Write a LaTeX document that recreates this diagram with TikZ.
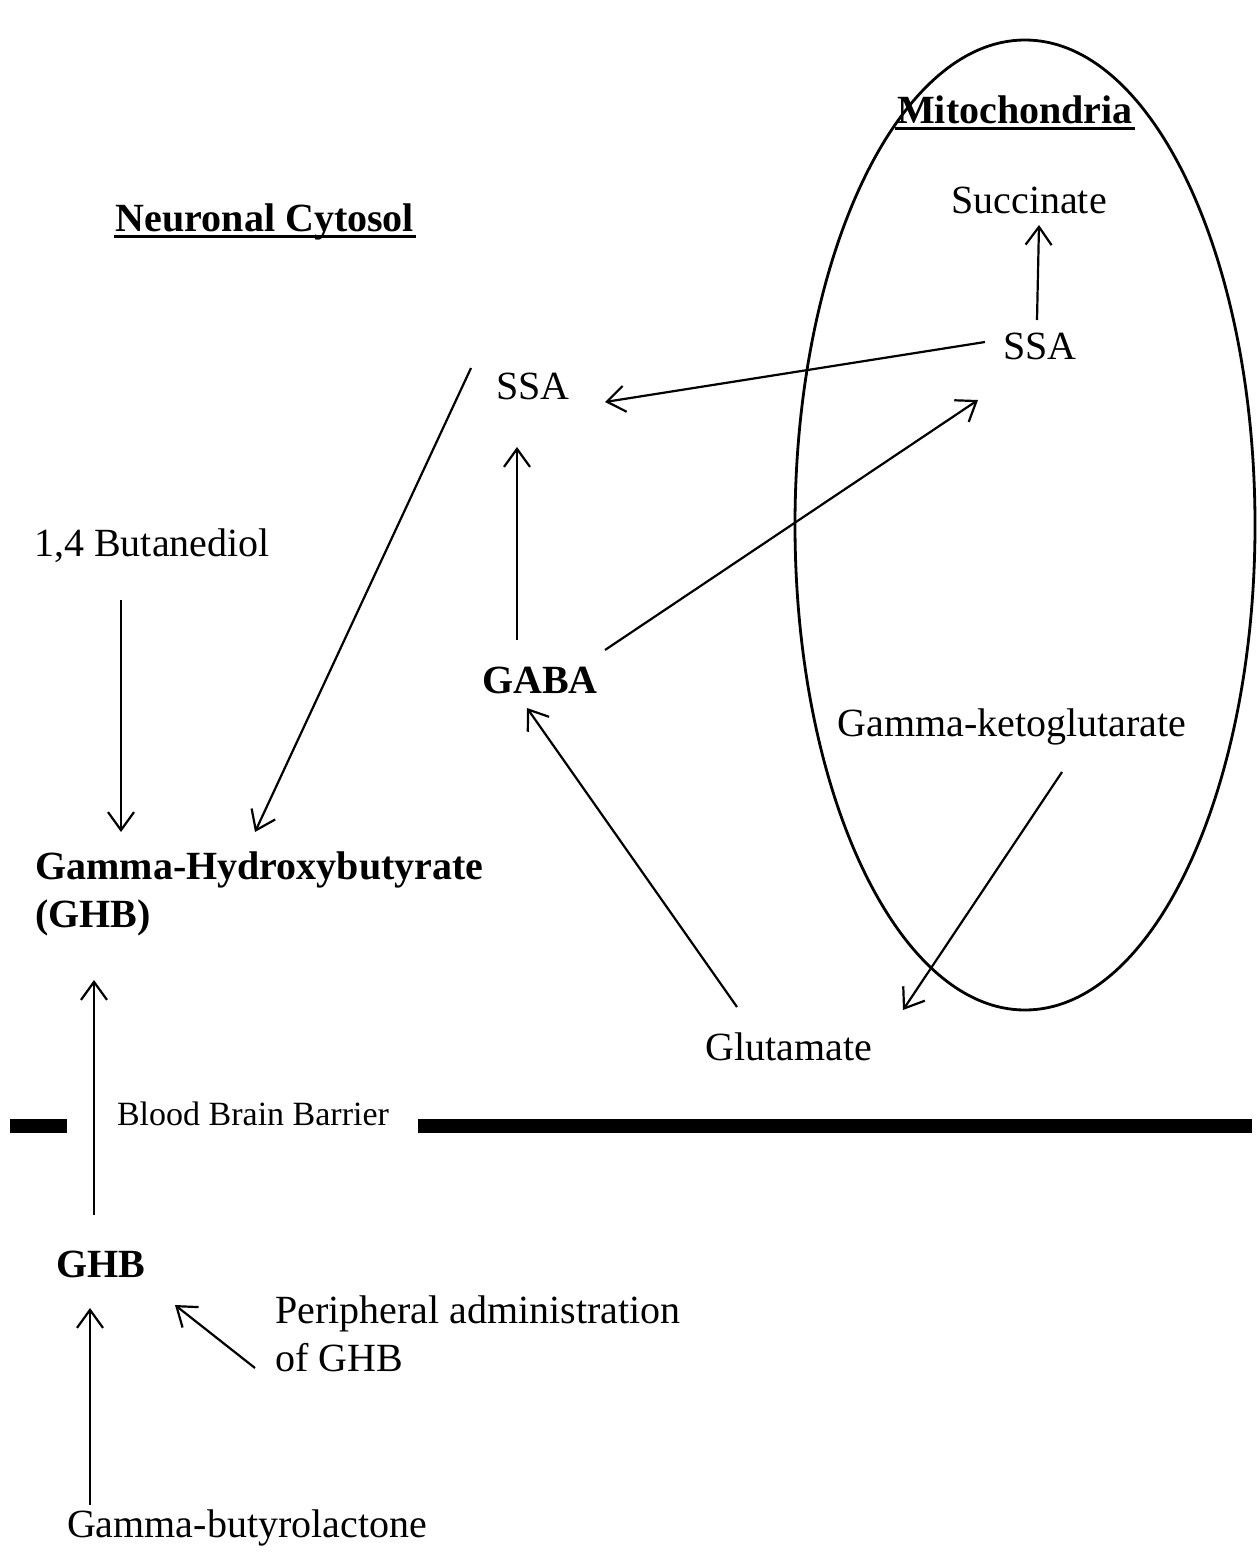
\documentclass[tikz,border=0pt]{standalone}
\usepackage{fontspec}
\setmainfont{Liberation Serif}
\usetikzlibrary{arrows.meta}
\begin{document}
\begin{tikzpicture}[x=0.5pt,y=-0.5pt,
  lbl/.style={font=\fontsize{20}{24}\selectfont, inner sep=1pt},
  blbl/.style={font=\fontsize{20}{24}\selectfont\bfseries, inner sep=1pt},
  arr/.style={line width=1.1pt, -{Straight Barb[length=9pt,width=13pt,line width=1.1pt]}},
  uline/.style={line width=1.4pt},
  barrier/.style={line width=7pt}]
\useasboundingbox (0,0) rectangle (1257,1552);
% mitochondria
\draw[line width=1.4pt] (1025,525) ellipse [x radius=230, y radius=485];
\node[blbl] (mito) at (1015,110) {Mitochondria};
\node[blbl] (cyto) at (265,222) {Neuronal Cytosol};
\draw[uline] ([yshift=-2.5pt]mito.base west) -- ([yshift=-2.5pt]mito.base east);
\draw[uline] ([yshift=-2.5pt]cyto.base west) -- ([yshift=-2.5pt]cyto.base east);
\node[lbl] (succ) at (1029,200) {Succinate};
\node[lbl] (ssar) at (1040,346) {SSA};
\node[lbl] (ssal) at (533,386) {SSA};
\node[blbl] (gaba) at (540,680) {GABA};
\node[lbl] (bdo) at (152,546) {1,4 Butanediol};
\node[blbl, align=left, anchor=north west] (ghb) at (33,849) {Gamma-Hydroxybutyrate\\(GHB)};
\node[lbl] (akg) at (1012,727) {Gamma-ketoglutarate};
\node[lbl] (glu) at (789,1047) {Glutamate};
\node[font=\fontsize{17}{20}\selectfont, inner sep=1pt] (bbb) at (253,1114) {Blood Brain Barrier};
\node[blbl] (ghbp) at (101,1264) {GHB};
\node[lbl, align=left, anchor=north west] (peri) at (273,1293) {Peripheral administration\\of GHB};
\node[lbl] (gbl) at (247,1528) {Gamma-butyrolactone};
% barrier
\coordinate (b1) at (10,1126); \coordinate (b2) at (67,1126);
\coordinate (b3) at (418,1126); \coordinate (b4) at (1252,1126);
\draw[barrier] (b1) -- (b2);
\draw[barrier] (b3) -- (b4);
% arrows
\coordinate (s1) at (1037,320); \coordinate (e1) at (1039,225);
\draw[arr] (s1) -- (e1);
\coordinate (s2) at (985,342); \coordinate (e2) at (605,402);
\draw[arr] (s2) -- (e2);
\coordinate (s3) at (605,650); \coordinate (e3) at (978,400);
\draw[arr] (s3) -- (e3);
\coordinate (s4) at (517,640); \coordinate (e4) at (517,447);
\draw[arr] (s4) -- (e4);
\coordinate (s5) at (121,600); \coordinate (e5) at (121,832);
\draw[arr] (s5) -- (e5);
\coordinate (s6) at (471,368); \coordinate (e6) at (255,832);
\draw[arr] (s6) -- (e6);
\coordinate (s7) at (1062,772); \coordinate (e7) at (903,1010);
\draw[arr] (s7) -- (e7);
\coordinate (s8) at (737,1007); \coordinate (e8) at (527,708);
\draw[arr] (s8) -- (e8);
\coordinate (s9) at (94,1215); \coordinate (e9) at (94,980);
\draw[arr] (s9) -- (e9);
\coordinate (s10) at (255,1368); \coordinate (e10) at (175,1305);
\draw[arr] (s10) -- (e10);
\coordinate (s11) at (90,1505); \coordinate (e11) at (90,1308);
\draw[arr] (s11) -- (e11);
\end{tikzpicture}
\end{document}
